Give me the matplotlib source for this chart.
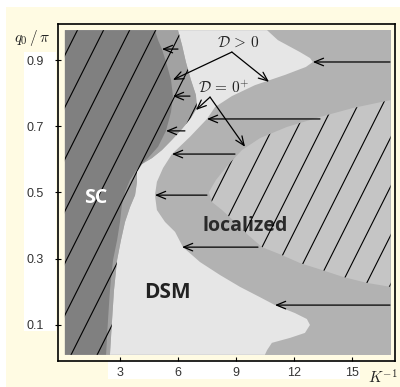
import numpy as np
import matplotlib.pyplot as plt
from matplotlib.patches import Polygon, Rectangle
from matplotlib.collections import LineCollection

plt.rcParams['mathtext.fontset'] = 'cm'

x_ticks = [3, 6, 9, 12, 15]
y_ticks = [0.1, 0.3, 0.5, 0.7, 0.9]

# extent of the phase map
k_min, k_max = 0.15, 17.0
q_min, q_max = 0.01, 0.99

# SC border (dark region), top to bottom
sc_k = [4.81, 4.97, 5.17, 5.43, 5.64, 5.74, 5.64, 5.38, 4.97, 4.45, 3.93, 3.52,
        3.26, 3.10, 3.00, 2.85, 2.64, 2.48, 2.38, 2.28]
sc_q = [0.99, 0.96, 0.933, 0.885, 0.84, 0.791, 0.743, 0.686, 0.638, 0.604, 0.574,
        0.538, 0.501, 0.462, 0.411, 0.356, 0.296, 0.205, 0.115, 0.01]

# D = 0+ band next to SC, its border with the DSM region
band_k = [6.00, 6.21, 6.41, 6.67, 6.93, 6.98, 6.67, 6.21, 5.69, 5.17, 4.66, 4.14,
          3.88, 3.88, 3.78, 3.52, 3.26, 3.05, 2.85, 2.69, 2.59, 2.48]
band_q = [0.99, 0.945, 0.894, 0.84, 0.794, 0.755, 0.725, 0.692, 0.659, 0.628, 0.604,
          0.586, 0.562, 0.532, 0.492, 0.456, 0.411, 0.356, 0.296, 0.205, 0.115, 0.01]

# DSM (D > 0) region, right border top to bottom
dsm_k = [10.61, 11.17, 12.31, 12.83, 12.98, 12.62, 11.54, 9.98, 8.79, 7.92, 7.50,
         6.62, 5.69, 5.23, 4.91, 4.81, 4.91, 5.33, 5.85, 6.26, 7.14, 8.17, 9.21,
         10.24, 11.02, 12.05, 12.67, 12.83, 12.57, 11.80, 10.86, 10.61, 10.50]
dsm_q = [0.99, 0.96, 0.924, 0.906, 0.894, 0.879, 0.855, 0.824, 0.791, 0.758, 0.722,
         0.668, 0.616, 0.574, 0.532, 0.492, 0.447, 0.411, 0.381, 0.335, 0.29, 0.251,
         0.215, 0.184, 0.16, 0.136, 0.118, 0.10, 0.076, 0.061, 0.046, 0.024, 0.01]

# localized region border
loc_k = [17.0, 15.05, 13.35, 11.64, 10.24, 9.31, 8.59, 7.97, 7.60, 7.76, 8.28, 8.95,
         9.62, 10.35, 11.38, 12.31, 13.45, 14.54, 15.78, 17.0]
loc_q = [0.779, 0.755, 0.728, 0.698, 0.664, 0.628, 0.583, 0.538, 0.501, 0.471, 0.447,
         0.411, 0.372, 0.335, 0.311, 0.287, 0.266, 0.245, 0.227, 0.215]

# horizontal arrows pointing at the transitions
arrow_q = [0.933, 0.791, 0.686, 0.616, 0.492, 0.335, 0.160, 0.894, 0.722]
arrow_from = [6.00, 6.62, 6.36, 8.95, 7.50, 10.14, 16.97, 16.97, 13.35]
arrow_to = [5.17, 5.74, 5.38, 5.69, 4.81, 6.21, 11.02, 12.98, 7.50]

cream = '#fffbe3'
c_sc, c_band, c_mid, c_loc, c_dsm = '#808080', '#a2a2a2', '#b2b2b2', '#c5c5c5', '#e6e6e6'

fig = plt.figure(figsize=(4, 3.87), dpi=100, facecolor='white')
fig.patches.append(Rectangle((6 / 400, 0), 394 / 400, 380 / 387, transform=fig.transFigure,
                             facecolor=cream, edgecolor='none', zorder=-10))
fig.patches.append(Rectangle((24 / 400, 56 / 387), 32 / 400, 279 / 387, transform=fig.transFigure,
                             facecolor='white', edgecolor='none', zorder=-9))
fig.patches.append(Rectangle((108 / 400, 8 / 387), 252 / 400, 18 / 387, transform=fig.transFigure,
                             facecolor='white', edgecolor='none', zorder=-9))

ax = fig.add_axes([58 / 400, 26 / 387, 337 / 400, 337 / 387])
ax.set_facecolor(cream)

ax.add_patch(Rectangle((k_min, q_min), k_max - k_min, q_max - q_min, facecolor=c_mid,
                       edgecolor='none', zorder=1))
dsm_poly = list(zip(dsm_k, dsm_q)) + list(zip(band_k[::-1], band_q[::-1]))
ax.add_patch(Polygon(dsm_poly, closed=True, facecolor=c_dsm, edgecolor='none', zorder=1.1))
loc_patch = Polygon(list(zip(loc_k, loc_q)), closed=True, facecolor=c_loc,
                    edgecolor='none', zorder=1.2)
ax.add_patch(loc_patch)
band_patch = Polygon([(k_min, q_max)] + list(zip(band_k, band_q)) + [(k_min, q_min)],
                     closed=True, facecolor=c_band, edgecolor='none', zorder=1.3)
ax.add_patch(band_patch)
ax.add_patch(Polygon([(k_min, q_max)] + list(zip(sc_k, sc_q)) + [(k_min, q_min)],
                     closed=True, facecolor=c_sc, edgecolor='none', zorder=1.4))


def hatch(patch, k_ref, q_ref, step, slope=8.6):
    segs = []
    for n in range(-20, 21):
        k0 = k_ref + n * step
        segs.append([(k0 - slope * q_ref, 0.0), (k0 + slope * (1 - q_ref), 1.0)])
    lc = LineCollection(segs, colors='black', linewidths=0.8, zorder=3)
    ax.add_collection(lc, autolim=False)
    lc.set_clip_path(patch)


hatch(band_patch, 2.07, 0.981, 1.35)
hatch(loc_patch, 10.35, 0.335, 1.27)

ax.text(1.76, 0.468, 'SC', color='white', fontsize=14, fontweight='bold',
        family='Open Sans', ha='center', va='baseline', zorder=3.5)
ax.text(5.48, 0.181, 'DSM', color='#222222', fontsize=15, fontweight='bold',
        family='Open Sans', ha='center', va='baseline', zorder=2)
ax.text(9.49, 0.384, 'localized', color='#2a2a2a', fontsize=14, fontweight='bold',
        family='Open Sans', ha='center', va='baseline', zorder=2)

head = '->,head_length=0.65,head_width=0.27'
for q, k_from, k_to in zip(arrow_q, arrow_from, arrow_to):
    ax.annotate('', xy=(k_to, q), xytext=(k_from, q),
                arrowprops=dict(arrowstyle=head, color='black', lw=0.9,
                                shrinkA=0, shrinkB=0), zorder=4)

for tip in [(5.74, 0.84), (10.71, 0.834)]:
    ax.annotate('', xy=tip, xytext=(8.79, 0.924),
                arrowprops=dict(arrowstyle=head, color='black', lw=0.9,
                                shrinkA=0, shrinkB=0), zorder=4)
for tip in [(6.93, 0.749), (9.47, 0.638)]:
    ax.annotate('', xy=tip, xytext=(7.66, 0.788),
                arrowprops=dict(arrowstyle=head, color='black', lw=0.9,
                                shrinkA=0, shrinkB=0), zorder=4)
ax.text(9.10, 0.954, r'$\mathcal{D}\,>\,0$', fontsize=11, ha='center', va='center',
        color='#222222', zorder=4)
ax.text(8.38, 0.815, r'$\mathcal{D}\,=\,0^{+}$', fontsize=11, ha='center', va='center',
        color='#222222', zorder=4)

ax.set_xlim(-0.207, 17.23)
ax.set_ylim(-0.0088, 1.0087)
ax.set_xticks(x_ticks)
ax.set_xticklabels([str(v) for v in x_ticks], family='Liberation Sans')
ax.set_yticks(y_ticks)
ax.set_yticklabels([f'{v:.1f}' for v in y_ticks], family='Liberation Sans')
ax.tick_params(axis='x', direction='in', length=3, width=0.8, labelsize=9, pad=4,
               labelcolor='#333333')
ax.tick_params(axis='y', direction='inout', length=4, width=0.8, labelsize=9, pad=8,
               labelcolor='#333333')
for s in ax.spines.values():
    s.set_linewidth(1.2)
    s.set_zorder(5)

fig.text(32 / 400, 1 - 38 / 387, r'$q_0\,/\,\pi$', ha='center', va='center',
         fontsize=11, color='#222222')
fig.text(368 / 400, 3 / 387, r'$K^{-1}$', ha='left', va='baseline',
         fontsize=11, color='#222222')

fig.savefig('out.png', dpi=100, facecolor=fig.get_facecolor())
